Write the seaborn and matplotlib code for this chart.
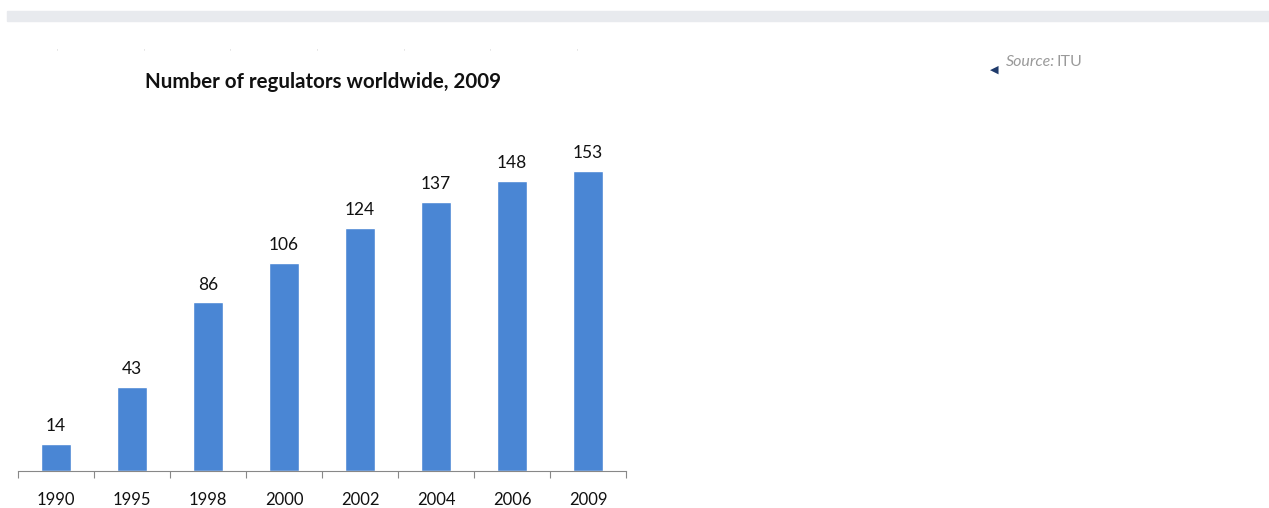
import pandas as pd
import seaborn as sns
import matplotlib.pyplot as plt
from matplotlib.patches import Rectangle

years = ["1990", "1995", "1998", "2000", "2002", "2004", "2006", "2009"]
regulators = [14, 43, 86, 106, 124, 137, 148, 153]

df = pd.DataFrame({"year": years, "regulators": regulators})

sns.set_style("white")
plt.rcParams['font.family'] = ['Lato', 'DejaVu Sans']

fig = plt.figure(figsize=(12.69, 5.08), dpi=100)
W, H = 1269, 508

# grey band across the top of the page
fig.patches.append(Rectangle((7 / W, 1 - 21 / H), 1262 / W, 10 / H,
                             transform=fig.transFigure, color="#e8eaee", zorder=0))

# chart area
ax = fig.add_axes([18 / W, 37 / H, 608 / W, 314 / H])
sns.barplot(x="year", y="regulators", data=df, color="#4a86d4",
            saturation=1, width=0.4, ax=ax)
ax.set_xlim(-0.5, 7.5)
ax.set_ylim(0, 160)

for p, v in zip(ax.patches, regulators):
    ax.annotate(str(v), (p.get_x() + p.get_width() / 2, p.get_height()),
                xytext=(0, 7), textcoords="offset points",
                ha="center", va="bottom", fontsize=12.5, color="#111111")

sns.despine(ax=ax, left=True)
ax.spines["bottom"].set_color("#888888")
ax.set_yticks([])
ax.set_xlabel(None)
ax.set_ylabel(None)

# ticks at the category boundaries, labels in between
ax.set_xticks([i - 0.5 for i in range(len(years) + 1)], minor=False)
ax.set_xticklabels([])
ax.tick_params(axis="x", which="major", bottom=True, length=5, color="#888888")
ax.set_xticks(range(len(years)), minor=True)
ax.set_xticklabels(years, minor=True)
ax.tick_params(axis="x", which="minor", bottom=False, pad=13, labelsize=12,
               labelcolor="#111111")

# title
fig.text(323 / W, 1 - 82 / H, "Number of regulators worldwide, 2009",
         ha="center", va="center", fontsize=14.8, fontweight="bold", color="#111111")

# faint tick residue above the title
for x in [57, 144, 230, 317, 404, 490, 577]:
    fig.text(x / W, 1 - 52 / H, "'", ha="center", va="center",
             fontsize=5, color="#cccccc")

# source note
fig.text(994 / W, 1 - 70 / H, "\u25C0", ha="center", va="center",
         fontsize=8, color="#1f3a6b", family="DejaVu Sans")
fig.text(1006 / W, 1 - 62 / H, "Source:", ha="left", va="center",
         fontsize=11.5, color="#9a9a9a", style="italic")
fig.text(1057 / W, 1 - 62 / H, "ITU", ha="left", va="center",
         fontsize=11.5, color="#9a9a9a")

fig.savefig("out.png", dpi=100)
